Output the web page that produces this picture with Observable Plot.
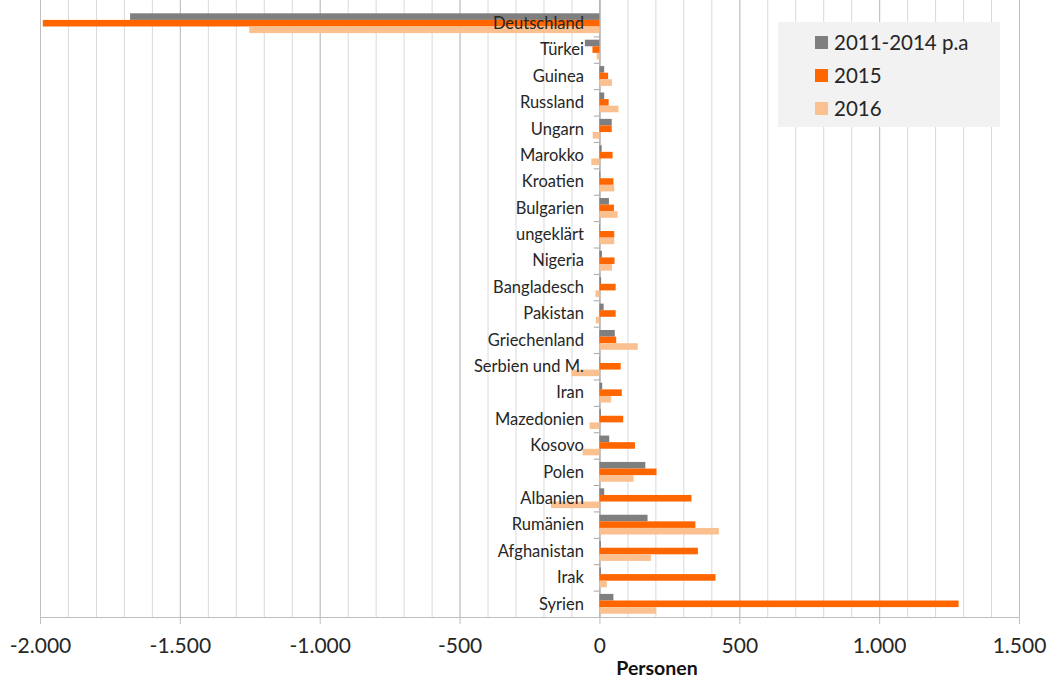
<!DOCTYPE html>
<html>
<head>
<meta charset="utf-8">
<script src="https://cdn.jsdelivr.net/npm/d3@7"></script>
<script src="https://cdn.jsdelivr.net/npm/@observablehq/plot@0.6"></script>
<style>
  html, body { margin: 0; padding: 0; background: #fff; }
  #wrap { position: relative; width: 1048px; height: 679px; font-family: Lato, "Open Sans", sans-serif; }
  #wrap svg text { fill: #262626; }
  #legend { position: absolute; left: 778px; top: 22px; width: 222px; height: 105px; background: #f2f2f2; }
  .li { position: absolute; left: 37px; font-size: 20.5px; color: #262626; line-height: 22px; white-space: nowrap; }
  .sw { display: inline-block; width: 13px; height: 13px; margin-right: 6px; vertical-align: 1px; }
  #xlabel { position: absolute; left: 657px; top: 656px; transform: translateX(-50%); font-weight: bold; font-size: 19.5px; color: #111; }
</style>
</head>
<body>
<div id="wrap"></div>
<script>
const categories = ["Deutschland","Türkei","Guinea","Russland","Ungarn","Marokko","Kroatien","Bulgarien","ungeklärt","Nigeria","Bangladesch","Pakistan","Griechenland","Serbien und M.","Iran","Mazedonien","Kosovo","Polen","Albanien","Rumänien","Afghanistan","Irak","Syrien"];
const seriesNames = ["2011-2014 p.a", "2015", "2016"];
const v2011 = [-1678, -52, 17, 17, 44, 8, 3, 34, 2, 9, 6, 15, 55, 2, 10, 5, 35, 164, 17, 172, 5, 5, 50];
const v2015 = [-1990, -25, 31, 33, 44, 47, 50, 52, 53, 54, 58, 58, 60, 76, 80, 85, 127, 204, 329, 343, 352, 415, 1284];
const v2016 = [-1252, -10, 45, 68, -24, -29, 53, 65, 53, 45, -14, -13, 137, -100, 41, -35, -60, 122, -173, 427, 184, 26, 203];
const colors = ["#7f7f7f", "#ff6600", "#fac090"];
const xTicks = [-2000, -1500, -1000, -500, 0, 500, 1000, 1500];
const gridMinor = d3.range(-2000, 1501, 100);

const seriesValues = [v2011, v2015, v2016];

const loc = d3.formatLocale({decimal: ",", thousands: ".", grouping: [3], currency: ["", "€"], minus: "-"});
const fmt = loc.format(",.0f");

// layout
const W = 1048, H = 679, mT = 0, mB = 62, mL = 40, mR = 29, insetTop = 10;
const step = (H - mT - mB - insetTop) / categories.length;
const barH = step * 0.25;
const outer = (step - 3 * barH) / 2;

const barMarks = seriesNames.map((s, j) =>
  Plot.barX(categories.map((c, i) => ({cat: c, series: s, value: seriesValues[j][i]})), {
    y: "cat", x: "value", fill: colors[j],
    insetTop: outer + j * barH,
    insetBottom: step - outer - (j + 1) * barH
  })
);

const chart = Plot.plot({
  width: W,
  height: H,
  marginLeft: mL,
  marginRight: mR,
  marginTop: mT,
  marginBottom: mB,
  style: {fontFamily: "Lato, 'Open Sans', sans-serif", fontSize: "21px", color: "#bfbfbf", background: "transparent"},
  x: {domain: [-2000, 1500], ticks: xTicks, tickFormat: fmt, tickSize: 7, tickPadding: 14, label: null, line: true},
  y: {domain: categories, axis: null, padding: 0, round: false, insetTop: insetTop},
  marks: [
    Plot.ruleX(gridMinor, {stroke: "#d9d9d9", strokeWidth: 1}),
    Plot.ruleX(xTicks, {stroke: "#bfbfbf", strokeWidth: 1}),
    Plot.ruleX([0], {stroke: "#a6a6a6", strokeWidth: 1}),
    Plot.ruleY(categories.slice(1), {y: d => d, x1: -20, x2: 0, dy: -step / 2, stroke: "#a6a6a6"}),
    ...barMarks,
    Plot.text(categories, {y: d => d, text: d => d, x: 0, dx: -16, textAnchor: "end", fontSize: 16.5, fill: "#333"})
  ]
});

document.getElementById("wrap").appendChild(chart);

const legend = document.createElement("div");
legend.id = "legend";
seriesNames.forEach((s, i) => {
  const item = document.createElement("div");
  item.className = "li";
  item.style.top = (9 + i * 33) + "px";
  const sw = document.createElement("span");
  sw.className = "sw";
  sw.style.background = colors[i];
  item.appendChild(sw);
  item.appendChild(document.createTextNode(s));
  legend.appendChild(item);
});
document.getElementById("wrap").appendChild(legend);

const xl = document.createElement("div");
xl.id = "xlabel";
xl.textContent = "Personen";
document.getElementById("wrap").appendChild(xl);
</script>
</body>
</html>
